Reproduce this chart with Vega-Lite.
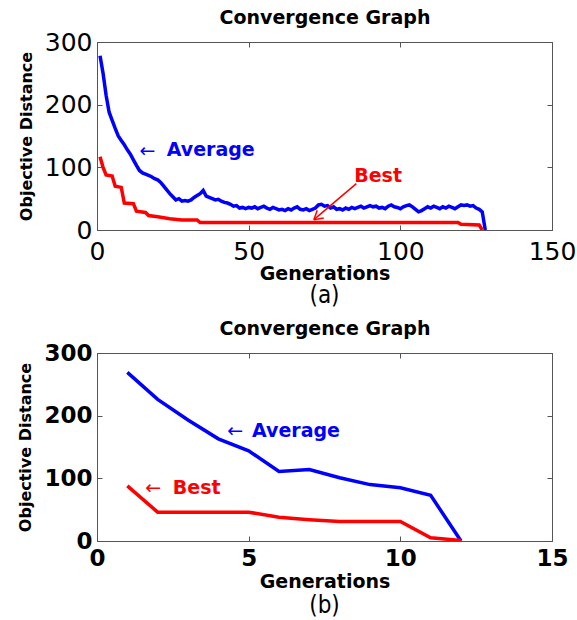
{
  "$schema": "https://vega.github.io/schema/vega-lite/v6.json",
  "background": "white",
  "padding": {"left": 17, "top": 8, "right": 10, "bottom": 2},
  "spacing": 10,
  "config": {
    "view": {"stroke": "#555", "strokeWidth": 1},
    "axis": {"grid": false, "domain": false, "tickColor": "#555", "tickSize": -5, "labelColor": "#000", "titleColor": "#000", "labelFont": "DejaVu Sans", "titleFont": "DejaVu Sans", "labelFlush": false, "labelOverlap": false}
  },
  "vconcat": [
    {
      "width": 455,
      "height": 188,
      "title": {"text": "(a)", "orient": "bottom", "font": "Liberation Sans Narrow, DejaVu Sans Condensed, sans-serif", "fontSize": 24, "fontWeight": "normal", "offset": 1, "color": "#000"},
      "data": {"values": [
        {"series": "Average", "gen": 1, "value": 278}, {"series": "Average", "gen": 2, "value": 250}, {"series": "Average", "gen": 3, "value": 215}, {"series": "Average", "gen": 4, "value": 188}, {"series": "Average", "gen": 5, "value": 175},
        {"series": "Average", "gen": 6, "value": 162}, {"series": "Average", "gen": 7, "value": 150}, {"series": "Average", "gen": 8, "value": 143}, {"series": "Average", "gen": 9, "value": 136}, {"series": "Average", "gen": 10, "value": 128},
        {"series": "Average", "gen": 11, "value": 121}, {"series": "Average", "gen": 12, "value": 112}, {"series": "Average", "gen": 13, "value": 103}, {"series": "Average", "gen": 14, "value": 95}, {"series": "Average", "gen": 15, "value": 91},
        {"series": "Average", "gen": 16, "value": 89}, {"series": "Average", "gen": 17, "value": 87}, {"series": "Average", "gen": 18, "value": 85}, {"series": "Average", "gen": 19, "value": 82}, {"series": "Average", "gen": 20, "value": 80},
        {"series": "Average", "gen": 21, "value": 76}, {"series": "Average", "gen": 22, "value": 70}, {"series": "Average", "gen": 23, "value": 64}, {"series": "Average", "gen": 24, "value": 58}, {"series": "Average", "gen": 25, "value": 53},
        {"series": "Average", "gen": 26, "value": 48}, {"series": "Average", "gen": 27, "value": 50}, {"series": "Average", "gen": 28, "value": 46}, {"series": "Average", "gen": 29, "value": 47}, {"series": "Average", "gen": 30, "value": 46},
        {"series": "Average", "gen": 31, "value": 48}, {"series": "Average", "gen": 32, "value": 52}, {"series": "Average", "gen": 33, "value": 55}, {"series": "Average", "gen": 34, "value": 58}, {"series": "Average", "gen": 35, "value": 63},
        {"series": "Average", "gen": 36, "value": 54}, {"series": "Average", "gen": 37, "value": 52}, {"series": "Average", "gen": 38, "value": 50}, {"series": "Average", "gen": 39, "value": 48}, {"series": "Average", "gen": 40, "value": 49},
        {"series": "Average", "gen": 41, "value": 46}, {"series": "Average", "gen": 42, "value": 44}, {"series": "Average", "gen": 43, "value": 43}, {"series": "Average", "gen": 44, "value": 41}, {"series": "Average", "gen": 45, "value": 38},
        {"series": "Average", "gen": 46, "value": 39}, {"series": "Average", "gen": 47, "value": 35}, {"series": "Average", "gen": 48, "value": 36}, {"series": "Average", "gen": 49, "value": 34}, {"series": "Average", "gen": 50, "value": 36},
        {"series": "Average", "gen": 51, "value": 35}, {"series": "Average", "gen": 52, "value": 37}, {"series": "Average", "gen": 53, "value": 34}, {"series": "Average", "gen": 54, "value": 36}, {"series": "Average", "gen": 55, "value": 38},
        {"series": "Average", "gen": 56, "value": 35}, {"series": "Average", "gen": 57, "value": 33}, {"series": "Average", "gen": 58, "value": 36}, {"series": "Average", "gen": 59, "value": 34}, {"series": "Average", "gen": 60, "value": 32},
        {"series": "Average", "gen": 61, "value": 33}, {"series": "Average", "gen": 62, "value": 31}, {"series": "Average", "gen": 63, "value": 34}, {"series": "Average", "gen": 64, "value": 32}, {"series": "Average", "gen": 65, "value": 35},
        {"series": "Average", "gen": 66, "value": 37}, {"series": "Average", "gen": 67, "value": 33}, {"series": "Average", "gen": 68, "value": 32}, {"series": "Average", "gen": 69, "value": 34}, {"series": "Average", "gen": 70, "value": 31},
        {"series": "Average", "gen": 71, "value": 33}, {"series": "Average", "gen": 72, "value": 35}, {"series": "Average", "gen": 73, "value": 40}, {"series": "Average", "gen": 74, "value": 41}, {"series": "Average", "gen": 75, "value": 38},
        {"series": "Average", "gen": 76, "value": 39}, {"series": "Average", "gen": 77, "value": 35}, {"series": "Average", "gen": 78, "value": 37}, {"series": "Average", "gen": 79, "value": 33}, {"series": "Average", "gen": 80, "value": 34},
        {"series": "Average", "gen": 81, "value": 32}, {"series": "Average", "gen": 82, "value": 35}, {"series": "Average", "gen": 83, "value": 33}, {"series": "Average", "gen": 84, "value": 36}, {"series": "Average", "gen": 85, "value": 34},
        {"series": "Average", "gen": 86, "value": 36}, {"series": "Average", "gen": 87, "value": 38}, {"series": "Average", "gen": 88, "value": 35}, {"series": "Average", "gen": 89, "value": 37}, {"series": "Average", "gen": 90, "value": 39},
        {"series": "Average", "gen": 91, "value": 37}, {"series": "Average", "gen": 92, "value": 38}, {"series": "Average", "gen": 93, "value": 35}, {"series": "Average", "gen": 94, "value": 36}, {"series": "Average", "gen": 95, "value": 34},
        {"series": "Average", "gen": 96, "value": 38}, {"series": "Average", "gen": 97, "value": 40}, {"series": "Average", "gen": 98, "value": 37}, {"series": "Average", "gen": 99, "value": 36}, {"series": "Average", "gen": 100, "value": 34},
        {"series": "Average", "gen": 101, "value": 37}, {"series": "Average", "gen": 102, "value": 39}, {"series": "Average", "gen": 103, "value": 40}, {"series": "Average", "gen": 104, "value": 37}, {"series": "Average", "gen": 105, "value": 33},
        {"series": "Average", "gen": 106, "value": 29}, {"series": "Average", "gen": 107, "value": 31}, {"series": "Average", "gen": 108, "value": 34}, {"series": "Average", "gen": 109, "value": 37}, {"series": "Average", "gen": 110, "value": 35},
        {"series": "Average", "gen": 111, "value": 38}, {"series": "Average", "gen": 112, "value": 36}, {"series": "Average", "gen": 113, "value": 34}, {"series": "Average", "gen": 114, "value": 37}, {"series": "Average", "gen": 115, "value": 35},
        {"series": "Average", "gen": 116, "value": 38}, {"series": "Average", "gen": 117, "value": 36}, {"series": "Average", "gen": 118, "value": 34}, {"series": "Average", "gen": 119, "value": 37}, {"series": "Average", "gen": 120, "value": 40},
        {"series": "Average", "gen": 121, "value": 39}, {"series": "Average", "gen": 122, "value": 40}, {"series": "Average", "gen": 123, "value": 38}, {"series": "Average", "gen": 124, "value": 39}, {"series": "Average", "gen": 125, "value": 35},
        {"series": "Average", "gen": 126, "value": 33}, {"series": "Average", "gen": 127, "value": 29}, {"series": "Average", "gen": 128, "value": 0},
        {"series": "Best", "gen": 1, "value": 117}, {"series": "Best", "gen": 2, "value": 100}, {"series": "Best", "gen": 3, "value": 88}, {"series": "Best", "gen": 5, "value": 86}, {"series": "Best", "gen": 6, "value": 70},
        {"series": "Best", "gen": 8, "value": 68}, {"series": "Best", "gen": 9, "value": 43}, {"series": "Best", "gen": 12, "value": 42}, {"series": "Best", "gen": 13, "value": 30}, {"series": "Best", "gen": 16, "value": 28},
        {"series": "Best", "gen": 17, "value": 23}, {"series": "Best", "gen": 20, "value": 21}, {"series": "Best", "gen": 24, "value": 18}, {"series": "Best", "gen": 28, "value": 16}, {"series": "Best", "gen": 33, "value": 16},
        {"series": "Best", "gen": 34, "value": 12}, {"series": "Best", "gen": 119, "value": 12}, {"series": "Best", "gen": 120, "value": 9}, {"series": "Best", "gen": 126, "value": 8}, {"series": "Best", "gen": 127, "value": 0}
      ]},
      "resolve": {"axis": {"x": "independent", "y": "independent"}},
      "layer": [
        {
          "mark": {"type": "line", "strokeWidth": 3.5, "clip": true},
          "encoding": {
            "x": {"field": "gen", "type": "quantitative", "scale": {"domain": [0, 150], "nice": false, "zero": false},
              "axis": {"orient": "bottom", "values": [0, 50, 100, 150], "title": "Generations", "labelFontSize": 25, "labelPadding": 14, "titleFontSize": 19, "titleFontWeight": "bold", "titlePadding": 0}},
            "y": {"field": "value", "type": "quantitative", "scale": {"domain": [0, 300], "nice": false},
              "axis": {"orient": "left", "values": [0, 100, 200, 300], "title": "Objective Distance", "labelFontSize": 25, "labelPadding": 10, "titleFontSize": 16, "titleFontWeight": "bold", "titlePadding": 10}},
            "color": {"field": "series", "type": "nominal", "scale": {"domain": ["Average", "Best"], "range": ["#0000ff", "#ff0000"]}, "legend": null}
          }
        },
        {
          "mark": {"type": "line", "strokeOpacity": 0},
          "encoding": {
            "x": {"field": "gen", "type": "quantitative", "scale": {"domain": [0, 150], "nice": false, "zero": false},
              "axis": {"orient": "top", "values": [0, 50, 100, 150], "labels": false, "title": "Convergence Graph", "titleFontSize": 19, "titleFontWeight": "bold", "titlePadding": 14}},
            "y": {"field": "value", "type": "quantitative", "scale": {"domain": [0, 300], "nice": false},
              "axis": {"orient": "right", "values": [0, 100, 200, 300], "labels": false, "title": null}},
            "detail": {"field": "series", "type": "nominal"}
          }
        },
        {
          "data": {"values": [{}]},
          "mark": {"type": "text", "font": "DejaVu Sans", "fontSize": 19, "color": "#0000ff", "align": "left", "baseline": "middle", "text": "←"},
          "encoding": {"x": {"datum": 14, "type": "quantitative", "axis": null}, "y": {"datum": 126, "type": "quantitative", "axis": null}}
        },
        {
          "data": {"values": [{}]},
          "mark": {"type": "text", "font": "DejaVu Sans", "fontWeight": "bold", "fontSize": 19, "color": "#0000ff", "align": "left", "baseline": "middle", "text": "Average"},
          "encoding": {"x": {"datum": 23, "type": "quantitative", "axis": null}, "y": {"datum": 127, "type": "quantitative", "axis": null}}
        },
        {
          "data": {"values": [{}]},
          "mark": {"type": "text", "font": "DejaVu Sans", "fontWeight": "bold", "fontSize": 19, "color": "#ff0000", "align": "left", "baseline": "middle", "text": "Best"},
          "encoding": {"x": {"datum": 84.8, "type": "quantitative", "axis": null}, "y": {"datum": 86, "type": "quantitative", "axis": null}}
        },
        {
          "data": {"values": [{}]},
          "mark": {"type": "rule", "color": "#ff0000", "strokeWidth": 1.5},
          "encoding": {"x": {"datum": 85.5, "type": "quantitative", "axis": null}, "y": {"datum": 74, "type": "quantitative", "axis": null}, "x2": {"datum": 71.5}, "y2": {"datum": 16.5}}
        },
        {
          "data": {"values": [{}]},
          "mark": {"type": "rule", "color": "#ff0000", "strokeWidth": 1.5},
          "encoding": {"x": {"datum": 71.5, "type": "quantitative", "axis": null}, "y": {"datum": 16.5, "type": "quantitative", "axis": null}, "x2": {"datum": 74.75}, "y2": {"datum": 19.3}}
        },
        {
          "data": {"values": [{}]},
          "mark": {"type": "rule", "color": "#ff0000", "strokeWidth": 1.5},
          "encoding": {"x": {"datum": 71.5, "type": "quantitative", "axis": null}, "y": {"datum": 16.5, "type": "quantitative", "axis": null}, "x2": {"datum": 72.6}, "y2": {"datum": 31.5}}
        }
      ]
    },
    {
      "width": 455,
      "height": 188,
      "title": {"text": "(b)", "orient": "bottom", "font": "Liberation Sans Narrow, DejaVu Sans Condensed, sans-serif", "fontSize": 24, "fontWeight": "normal", "offset": 3, "color": "#000"},
      "data": {"values": [
        {"series": "Average", "gen": 1, "value": 269}, {"series": "Average", "gen": 2, "value": 226}, {"series": "Average", "gen": 3, "value": 193}, {"series": "Average", "gen": 4, "value": 163},
        {"series": "Average", "gen": 5, "value": 144}, {"series": "Average", "gen": 6, "value": 111}, {"series": "Average", "gen": 7, "value": 114}, {"series": "Average", "gen": 8, "value": 101},
        {"series": "Average", "gen": 9, "value": 90}, {"series": "Average", "gen": 10, "value": 85}, {"series": "Average", "gen": 11, "value": 73}, {"series": "Average", "gen": 12, "value": 0},
        {"series": "Best", "gen": 1, "value": 88}, {"series": "Best", "gen": 2, "value": 46}, {"series": "Best", "gen": 3, "value": 46}, {"series": "Best", "gen": 4, "value": 46},
        {"series": "Best", "gen": 5, "value": 46}, {"series": "Best", "gen": 6, "value": 38}, {"series": "Best", "gen": 7, "value": 34}, {"series": "Best", "gen": 8, "value": 31},
        {"series": "Best", "gen": 9, "value": 31}, {"series": "Best", "gen": 10, "value": 31}, {"series": "Best", "gen": 11, "value": 5}, {"series": "Best", "gen": 12, "value": 1}
      ]},
      "resolve": {"axis": {"x": "independent", "y": "independent"}},
      "layer": [
        {
          "mark": {"type": "line", "strokeWidth": 3.5, "clip": true},
          "encoding": {
            "x": {"field": "gen", "type": "quantitative", "scale": {"domain": [0, 15], "nice": false, "zero": false},
              "axis": {"orient": "bottom", "values": [0, 5, 10, 15], "title": "Generations", "labelFontSize": 23, "labelFontWeight": "bold", "labelPadding": 11, "titleFontSize": 19, "titleFontWeight": "bold", "titlePadding": 2}},
            "y": {"field": "value", "type": "quantitative", "scale": {"domain": [0, 300], "nice": false},
              "axis": {"orient": "left", "values": [0, 100, 200, 300], "title": "Objective Distance", "labelFontSize": 23, "labelFontWeight": "bold", "labelPadding": 10, "titleFontSize": 16, "titleFontWeight": "bold", "titlePadding": 10}},
            "color": {"field": "series", "type": "nominal", "scale": {"domain": ["Average", "Best"], "range": ["#0000ff", "#ff0000"]}, "legend": null}
          }
        },
        {
          "mark": {"type": "line", "strokeOpacity": 0},
          "encoding": {
            "x": {"field": "gen", "type": "quantitative", "scale": {"domain": [0, 15], "nice": false, "zero": false},
              "axis": {"orient": "top", "values": [0, 5, 10, 15], "labels": false, "title": "Convergence Graph", "titleFontSize": 19, "titleFontWeight": "bold", "titlePadding": 14}},
            "y": {"field": "value", "type": "quantitative", "scale": {"domain": [0, 300], "nice": false},
              "axis": {"orient": "right", "values": [0, 100, 200, 300], "labels": false, "title": null}},
            "detail": {"field": "series", "type": "nominal"}
          }
        },
        {
          "data": {"values": [{}]},
          "mark": {"type": "text", "font": "DejaVu Sans", "fontSize": 19, "color": "#0000ff", "align": "left", "baseline": "middle", "text": "←"},
          "encoding": {"x": {"datum": 4.29, "type": "quantitative", "axis": null}, "y": {"datum": 176, "type": "quantitative", "axis": null}}
        },
        {
          "data": {"values": [{}]},
          "mark": {"type": "text", "font": "DejaVu Sans", "fontWeight": "bold", "fontSize": 19, "color": "#0000ff", "align": "left", "baseline": "middle", "text": "Average"},
          "encoding": {"x": {"datum": 5.11, "type": "quantitative", "axis": null}, "y": {"datum": 176, "type": "quantitative", "axis": null}}
        },
        {
          "data": {"values": [{}]},
          "mark": {"type": "text", "font": "DejaVu Sans", "fontSize": 19, "color": "#ff0000", "align": "left", "baseline": "middle", "text": "←"},
          "encoding": {"x": {"datum": 1.59, "type": "quantitative", "axis": null}, "y": {"datum": 85, "type": "quantitative", "axis": null}}
        },
        {
          "data": {"values": [{}]},
          "mark": {"type": "text", "font": "DejaVu Sans", "fontWeight": "bold", "fontSize": 19, "color": "#ff0000", "align": "left", "baseline": "middle", "text": "Best"},
          "encoding": {"x": {"datum": 2.5, "type": "quantitative", "axis": null}, "y": {"datum": 85, "type": "quantitative", "axis": null}}
        }
      ]
    }
  ]
}
